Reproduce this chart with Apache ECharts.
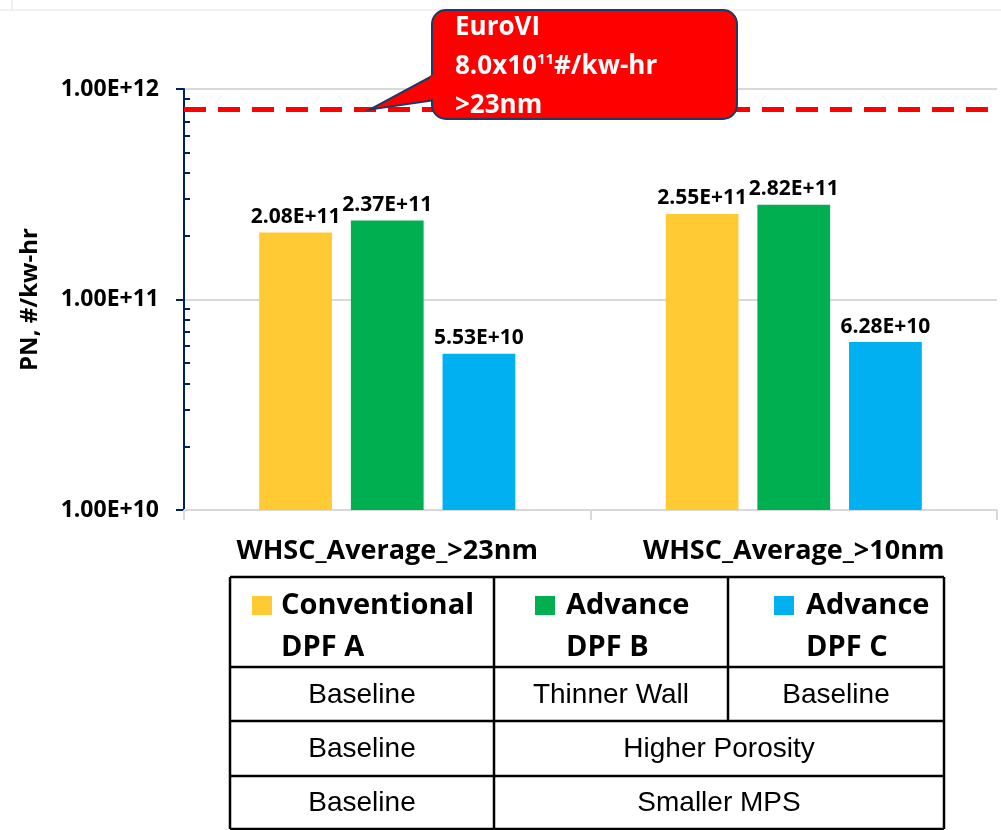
<!DOCTYPE html>
<html>
<head>
<meta charset="utf-8">
<script src="https://cdn.jsdelivr.net/npm/echarts@6/dist/echarts.min.js"></script>
<style>
  html, body { margin: 0; padding: 0; background: #fff; }
  #main { width: 1001px; height: 830px; }
</style>
</head>
<body>
<div id="main"></div>
<script>
// chart data
var categories = ['WHSC_Average_>23nm', 'WHSC_Average_>10nm'];
var dpfA = [2.08e11, 2.55e11];
var dpfB = [2.37e11, 2.82e11];
var dpfC = [5.53e10, 6.28e10];
var seriesNames = ['Conventional DPF A', 'Advance DPF B', 'Advance DPF C'];
var colors = ['#FFCA33', '#00B050', '#00B0F0'];
var euroVILimit = 8.0e11;
var yMin = 1e10;
var yMax = 1e12;
var minorTicks = [2e10, 3e10, 4e10, 5e10, 6e10, 7e10, 8e10, 9e10,
                  2e11, 3e11, 4e11, 5e11, 6e11, 7e11, 8e11, 9e11];
// table under the chart
var headerTop = ['Conventional', 'Advance', 'Advance'];
var headerBottom = ['DPF A', 'DPF B', 'DPF C'];
var tableRows = [
  ['Baseline', 'Thinner Wall', 'Baseline'],
  ['Baseline', 'Higher Porosity'],
  ['Baseline', 'Smaller MPS']
];

var chartFont = '"Open Sans"';
var tableFont = '"Liberation Sans", Arial, sans-serif';

function sci (v) {
  return Number(v).toExponential(2).toUpperCase();
}

var dom = document.getElementById('main');
var chart = echarts.init(dom);

function barSeries (name, data, color, withLimit) {
  var s = {
    name: name,
    type: 'bar',
    data: data,
    barGap: '26%',
    barCategoryGap: '37%',
    itemStyle: { color: color },
    label: {
      show: true,
      position: 'top',
      distance: 5,
      color: '#000',
      fontFamily: chartFont,
      fontWeight: 'bold',
      fontSize: 21,
      formatter: function (p) { return sci(p.value); }
    }
  };
  if (withLimit) {
    s.markLine = {
      silent: true,
      symbol: 'none',
      label: { show: false },
      lineStyle: { color: '#FF0000', type: [22, 12], width: 5 },
      data: [{ yAxis: euroVILimit }]
    };
  }
  return s;
}

var option = {
  animation: false,
  grid: { left: 184, right: 4, top: 89, bottom: 320, containLabel: false },
  xAxis: {
    type: 'category',
    data: categories,
    axisLine: { lineStyle: { color: '#D9D9D9', width: 2 } },
    axisTick: { show: true, length: 10, lineStyle: { color: '#D9D9D9', width: 2 } },
    axisLabel: {
      margin: 28,
      color: '#000',
      fontFamily: chartFont,
      fontWeight: 'bold',
      fontSize: 27
    }
  },
  yAxis: [
    {
      type: 'log',
      logBase: 10,
      min: yMin,
      max: yMax,
      name: 'PN, #/kw-hr',
      nameLocation: 'middle',
      nameGap: 142,
      nameTextStyle: { color: '#000', fontFamily: chartFont, fontWeight: 'bold', fontSize: 24 },
      axisLine: { show: true, lineStyle: { color: '#002060', width: 2 } },
      axisTick: { show: true, length: 8, lineStyle: { color: '#002060', width: 2 } },
      axisLabel: {
        margin: 25,
        color: '#000',
        fontFamily: chartFont,
        fontWeight: 'bold',
        fontSize: 23,
        formatter: function (v) { return sci(v); }
      },
      splitLine: { show: true, lineStyle: { color: '#D9D9D9', width: 2 } }
    },
    {
      type: 'log',
      logBase: 10,
      min: yMin,
      max: yMax,
      position: 'left',
      axisLine: { show: false },
      axisLabel: { show: false },
      splitLine: { show: false },
      axisTick: {
        show: true,
        inside: true,
        length: 6,
        customValues: minorTicks,
        lineStyle: { color: '#002060', width: 2 }
      }
    }
  ],
  series: [
    barSeries(seriesNames[0], dpfA, colors[0], true),
    barSeries(seriesNames[1], dpfB, colors[1], false),
    barSeries(seriesNames[2], dpfC, colors[2], false)
  ]
};
chart.setOption(option);

// callout pointing at the EuroVI limit line, and the table below the chart
function buildGraphics () {
  var limitY = chart.convertToPixel({ yAxisIndex: 0 }, euroVILimit);
  var els = [];

  // faint frame line along the top
  els.push({ type: 'line', shape: { x1: 0, y1: 10, x2: 1001, y2: 10 }, style: { stroke: '#E3E3E3', lineWidth: 1 } });
  els.push({ type: 'line', shape: { x1: 12, y1: 0, x2: 12, y2: 10 }, style: { stroke: '#E3E3E3', lineWidth: 1 } });

  var bx0 = 432, by0 = 10, bx1 = 737, by1 = 119, tipX = 370;
  var edge = '#1F3864';
  // tail
  els.push({
    type: 'polygon',
    shape: { points: [[bx0 + 4, 74], [tipX, limitY], [bx0 + 4, 100]] },
    style: { fill: '#FF0000', stroke: edge, lineWidth: 2, lineJoin: 'miter' },
    z: 100
  });
  // box
  els.push({
    type: 'rect',
    shape: { x: bx0, y: by0, width: bx1 - bx0, height: by1 - by0, r: 14 },
    style: { fill: '#FF0000', stroke: edge, lineWidth: 2 },
    z: 101
  });
  // hide the box edge where the tail joins
  els.push({
    type: 'rect',
    shape: { x: bx0 - 1.5, y: 75, width: 5, height: 24 },
    style: { fill: '#FF0000' },
    z: 102
  });
  els.push({
    type: 'text',
    x: 455, y: 8,
    z: 103,
    style: {
      text: 'EuroVI\n8.0x10{sup|11}#/kw-hr\n>23nm',
      fill: '#fff',
      fontFamily: chartFont,
      fontWeight: 'bold',
      fontSize: 26,
      lineHeight: 39,
      rich: {
        sup: { fontFamily: chartFont, fontWeight: 'bold', fontSize: 15, fill: '#fff', verticalAlign: 'middle', padding: [0, 0, 13, 0] }
      }
    }
  });

  // table
  var colX = [230, 494, 728, 944];
  var rowY = [577, 667, 721, 776, 829];
  var lineStyle = { stroke: '#000', lineWidth: 2.5 };
  for (var i = 0; i < rowY.length; i++) {
    els.push({ type: 'line', shape: { x1: colX[0], y1: rowY[i], x2: colX[3], y2: rowY[i] }, style: lineStyle });
  }
  els.push({ type: 'line', shape: { x1: colX[0], y1: rowY[0], x2: colX[0], y2: rowY[4] }, style: lineStyle });
  els.push({ type: 'line', shape: { x1: colX[3], y1: rowY[0], x2: colX[3], y2: rowY[4] }, style: lineStyle });
  els.push({ type: 'line', shape: { x1: colX[1], y1: rowY[0], x2: colX[1], y2: rowY[4] }, style: lineStyle });
  els.push({ type: 'line', shape: { x1: colX[2], y1: rowY[0], x2: colX[2], y2: rowY[2] }, style: lineStyle });

  // header cells: legend square + two text lines
  var squareX = [252, 535, 774];
  var textX = [281, 566, 806];
  for (var c = 0; c < 3; c++) {
    els.push({ type: 'rect', shape: { x: squareX[c], y: 596, width: 20, height: 19 }, style: { fill: colors[c] } });
    els.push({
      type: 'text', x: textX[c], y: 606,
      style: { text: headerTop[c], fill: '#000', fontFamily: chartFont, fontWeight: 'bold', fontSize: 29, verticalAlign: 'middle' }
    });
    els.push({
      type: 'text', x: textX[c], y: 648,
      style: { text: headerBottom[c], fill: '#000', fontFamily: chartFont, fontWeight: 'bold', fontSize: 29, verticalAlign: 'middle' }
    });
  }

  // body rows
  for (var rI = 0; rI < tableRows.length; rI++) {
    var row = tableRows[rI];
    var cy = (rowY[rI + 1] + rowY[rI + 2]) / 2 + 1;
    var spans = row.length === 3
      ? [[colX[0], colX[1]], [colX[1], colX[2]], [colX[2], colX[3]]]
      : [[colX[0], colX[1]], [colX[1], colX[3]]];
    for (var k = 0; k < row.length; k++) {
      els.push({
        type: 'text', x: (spans[k][0] + spans[k][1]) / 2, y: cy,
        style: { text: row[k], fill: '#000', fontFamily: tableFont, fontSize: 28, align: 'center', verticalAlign: 'middle' }
      });
    }
  }

  chart.setOption({ graphic: { elements: els } });
}
buildGraphics();
</script>
</body>
</html>
